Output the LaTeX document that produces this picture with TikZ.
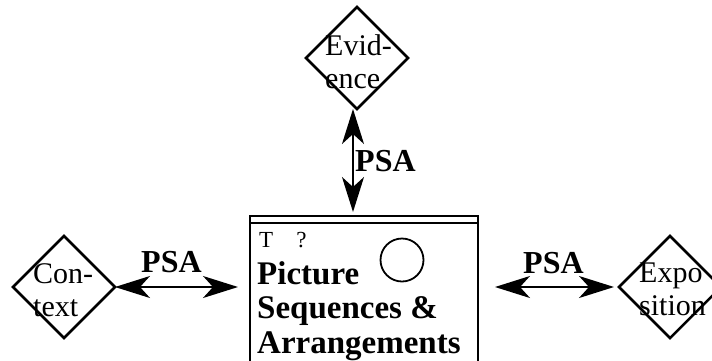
\documentclass[tikz,border=0pt]{standalone}
\usepackage{fontspec}
\setmainfont{Liberation Serif}
\usetikzlibrary{shapes.geometric,arrows.meta}

\tikzset{
  choice/.style={draw, line width=2.5pt, shape=diamond, minimum width=102pt,
    minimum height=102pt, inner sep=0pt, outer sep=0pt},
  choicetext/.style={align=left, inner sep=0pt, anchor=north west,
    font=\fontsize{30}{33}\selectfont},
  psa/.style={font=\bfseries\fontsize{32}{34}\selectfont, inner sep=0pt, anchor=base west},
  link/.style={line width=2pt,
    {Stealth[length=35pt,width=22pt,inset=10pt]}-{Stealth[length=35pt,width=22pt,inset=10pt]}}
}

\begin{document}
\begin{tikzpicture}[x=1pt,y=-1pt]
\useasboundingbox (0,0) rectangle (712,360);
\clip (0,0) rectangle (712,360);

% the three diamonds
\node[choice] (evid) at (357,58) {};
\node[choice] (ctx) at (64,287) {};
\node[choice] (expo) at (670,287) {};
\node[choicetext] (evidtext) at ([shift={(-32,-24)}]evid.center) {Evid-\\ence};
\node[choicetext] (ctxtext) at ([shift={(-31,-24)}]ctx.center) {Con-\\text};
\node[choicetext] (expotext) at ([shift={(-31,-24)}]expo.center) {Expo\\sition};

% the box in the middle
\node[draw, line width=2.5pt, minimum width=228pt, minimum height=170pt,
  inner sep=0pt, outer sep=0pt, anchor=north west] (psbox) at (250,216) {};
\draw[line width=2.5pt] ([yshift=-7pt]psbox.north west) -- ([yshift=-7pt]psbox.north east);
\node[anchor=base west, inner sep=0pt, font=\fontsize{23}{26}\selectfont] (tq) at (259,247) {T\quad?};
\node[draw, circle, line width=1.8pt, minimum size=43pt, inner sep=0pt] (ball) at (402,260) {};
\node[anchor=north west, align=left, inner sep=0pt,
  font=\bfseries\fontsize{33}{34.5}\selectfont] (title) at (257,261) {Picture\\Sequences \&\\Arrangements};

% arrows
\draw[link, shorten >=4pt] ([xshift=-4pt]evid.south) -- ([xshift=-4pt]evid.south |- psbox.north);
\draw[link, shorten >=12pt] (ctx.east) -- (ctx.east -| psbox.west);
\draw[link, shorten <=17pt, shorten >=5pt] (psbox.east |- expo.west) -- (expo.west);

\node[psa] (psaup) at (355,171) {PSA};
\node[psa] (psaleft) at (141,272) {PSA};
\node[psa] (psaright) at (523,273) {PSA};
\end{tikzpicture}
\end{document}
